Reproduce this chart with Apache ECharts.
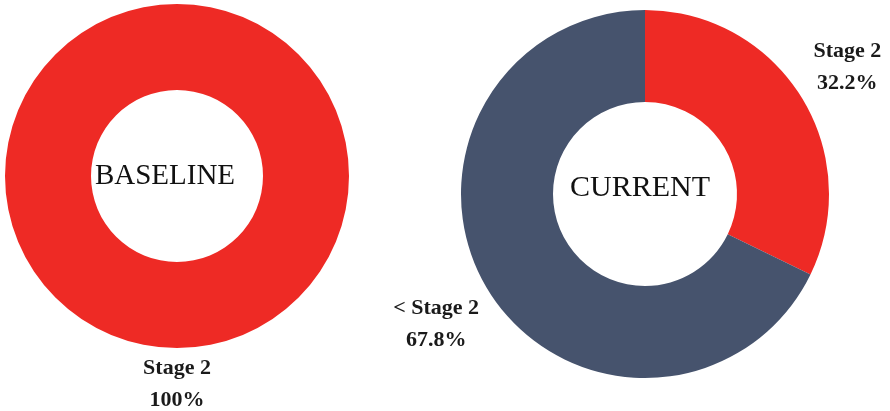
<!DOCTYPE html>
<html>
<head>
<meta charset="utf-8">
<script src="https://cdn.jsdelivr.net/npm/echarts@6/dist/echarts.min.js"></script>
<style>
  html, body { margin: 0; padding: 0; background: #fff; }
  #chart { width: 890px; height: 411px; }
</style>
</head>
<body>
<div id="chart"></div>
<script>
// Stage distribution, baseline vs current
const baselineCategories = ['Stage 2'];
const baselineValues = [100];
const currentCategories = ['Stage 2', '< Stage 2'];
const currentValues = [32.2, 67.8];
const centerTitles = ['BASELINE', 'CURRENT'];

const RED = '#ee2a25';
const NAVY = '#46536d';
const SERIF = '"Liberation Serif", "DejaVu Serif", serif';

const baseGeo = { center: [177, 176], r: 172 };
const currGeo = { center: [645, 194], r: 184 };

// Put each label just outside the ring, centred on the slice's mid angle
function outsideEnd(geo, values, pad) {
  const total = values.reduce((a, b) => a + b, 0);
  return function (params) {
    const i = params.dataIndex;
    const before = values.slice(0, i).reduce((a, b) => a + b, 0);
    const mid = (before + values[i] / 2) / total * Math.PI * 2;
    const sx = Math.sin(mid), sy = -Math.cos(mid);
    const w = params.labelRect.width, h = params.labelRect.height;
    const off = geo.r + pad + Math.abs(sx) * w / 2 + Math.abs(sy) * h / 2;
    return {
      x: geo.center[0] + sx * off,
      y: geo.center[1] + sy * off,
      align: 'center',
      verticalAlign: 'middle'
    };
  };
}

const labelStyle = {
  show: true,
  position: 'outside',
  formatter: '{b}\n{c}%',
  fontFamily: SERIF,
  fontWeight: 'bold',
  fontSize: 22,
  lineHeight: 32,
  color: '#1a1a1a',
  align: 'center'
};

function pieSeries(geo, cats, vals, colors, pad) {
  return {
    type: 'pie',
    center: geo.center,
    radius: [geo.r / 2, geo.r],
    startAngle: 90,
    clockwise: true,
    avoidLabelOverlap: false,
    silent: true,
    label: labelStyle,
    labelLine: { show: false },
    labelLayout: outsideEnd(geo, vals, pad),
    itemStyle: { borderWidth: 0 },
    emphasis: { disabled: true },
    data: cats.map((c, i) => ({ name: c, value: vals[i], itemStyle: { color: colors[i] } }))
  };
}

const chart = echarts.init(document.getElementById('chart'), null, { renderer: 'canvas' });
chart.setOption({
  animation: false,
  backgroundColor: '#ffffff',
  series: [
    pieSeries(baseGeo, baselineCategories, baselineValues, [RED], 4),
    pieSeries(currGeo, currentCategories, currentValues, [RED, NAVY], 9)
  ],
  graphic: [
    {
      type: 'text', x: baseGeo.center[0] - 12, y: baseGeo.center[1],
      style: { text: centerTitles[0], font: '29px ' + SERIF, fill: '#111', align: 'center', verticalAlign: 'middle' }
    },
    {
      type: 'text', x: currGeo.center[0] - 5, y: currGeo.center[1] - 6,
      style: { text: centerTitles[1], font: '30px ' + SERIF, fill: '#111', align: 'center', verticalAlign: 'middle' }
    }
  ]
});
</script>
</body>
</html>
